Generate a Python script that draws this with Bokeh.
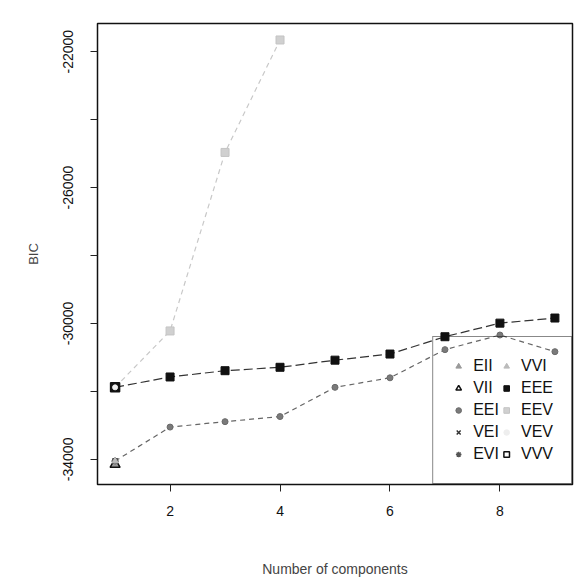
from bokeh.plotting import figure
from bokeh.models import FixedTicker, Legend, LegendItem, Range1d
from bokeh.embed import file_html
from bokeh.resources import INLINE

# ---- data ----
components = [1, 2, 3, 4, 5, 6, 7, 8, 9]
bic_EEE = [-31880, -31575, -31390, -31290, -31080, -30900, -30390, -29990, -29840]
bic_EEI = [-34050, -33050, -32890, -32740, -31880, -31600, -30770, -30340, -30830]
components_EEV = [1, 2, 3, 4]
bic_EEV = [-31880, -30220, -24965, -21655]
components_single = [1]
bic_EII = [-34150]
bic_VII = [-34150]
bic_VEI = [-34050]
bic_EVI = [-34050]
bic_VVI = [-34050]
bic_VEV = [-31880]
bic_VVV = [-31880]

y_ticks = [-34000, -32000, -30000, -28000, -26000, -24000, -22000]
y_labeled = [-34000, -30000, -26000, -22000]
x_ticks = [2, 4, 6, 8]

FONT = "Liberation Sans"

p = figure(frame_width=475, frame_height=461,
           min_border_left=97, min_border_right=2, min_border_top=23, min_border_bottom=95,
           x_range=Range1d(0.68, 9.32), y_range=Range1d(-34740, -21170),
           output_backend="svg", toolbar_location=None)
p.xgrid.visible = False
p.ygrid.visible = False
p.outline_line_color = "#111111"
p.outline_line_width = 1.5
p.background_fill_color = "white"
p.border_fill_color = "white"

# axes
p.xaxis.ticker = FixedTicker(ticks=x_ticks)
p.xaxis.minor_tick_line_color = None
p.xaxis.axis_line_color = None
p.xaxis.major_tick_in = 0
p.xaxis.major_tick_out = 7
p.xaxis.major_tick_line_color = "#222222"
p.xaxis.major_label_text_font = FONT
p.xaxis.major_label_text_font_size = "14px"
p.xaxis.major_label_text_color = "#111111"
p.xaxis.major_label_standoff = 14
p.xaxis.axis_label = "Number of components"
p.xaxis.axis_label_text_font = FONT
p.xaxis.axis_label_text_font_style = "normal"
p.xaxis.axis_label_text_font_size = "14px"
p.xaxis.axis_label_standoff = 42

p.yaxis.ticker = FixedTicker(ticks=y_ticks)
p.yaxis.major_label_overrides = {t: (str(t) if t in y_labeled else "") for t in y_ticks}
p.yaxis.minor_tick_line_color = None
p.yaxis.axis_line_color = None
p.yaxis.major_tick_in = 0
p.yaxis.major_tick_out = 7
p.yaxis.major_tick_line_color = "#222222"
p.yaxis.major_label_orientation = "vertical"
p.yaxis.major_label_text_font = FONT
p.yaxis.major_label_text_font_size = "14px"
p.yaxis.major_label_text_color = "#111111"
p.yaxis.major_label_standoff = 17
p.yaxis.axis_label = "BIC"
p.yaxis.axis_label_text_font = FONT
p.yaxis.axis_label_text_font_style = "normal"
p.yaxis.axis_label_text_font_size = "13px"
p.yaxis.axis_label_standoff = 20

# lines
p.line(components_EEV, bic_EEV, line_color="#c8c8c8", line_width=1.2, line_dash="5 4")
p.line(components, bic_EEI, line_color="#666666", line_width=1.2, line_dash="5 4")
p.line(components, bic_EEE, line_color="#333333", line_width=1.2, line_dash="9 4")

# markers
r_EEV = p.scatter(components_EEV, bic_EEV, marker="square", size=8, fill_color="#d0d0d0", line_color="#c4c4c4")
r_EEI = p.scatter(components, bic_EEI, marker="circle", size=6, fill_color="#7a7a7a", line_color="#6a6a6a")
r_EEE = p.scatter(components, bic_EEE, marker="square", size=8, fill_color="#111111", line_color="#111111")
r_VVV = p.scatter(components_single, bic_VVV, marker="square", size=9, fill_color=None, line_color="#111111", line_width=1.5)
r_VEV = p.scatter(components_single, bic_VEV, marker="circle", size=5, fill_color="#eeeeee", line_color="#eeeeee")
r_EII = p.scatter(components_single, bic_EII, marker="triangle", size=8, fill_color="#9a9a9a", line_color="#9a9a9a")
r_VII = p.scatter(components_single, bic_VII, marker="triangle", size=10, fill_color=None, line_color="#111111", line_width=1.5)
r_VEI = p.scatter(components_single, bic_VEI, marker="x", size=7, line_color="#333333", line_width=1.5)
r_EVI = p.scatter(components_single, bic_EVI, marker="asterisk", size=7, line_color="#555555", line_width=1.3)
r_VVI = p.scatter(components_single, bic_VVI, marker="triangle", size=6, fill_color="#bbbbbb", line_color="#bbbbbb")

items = [
    LegendItem(label="EII", renderers=[r_EII]),
    LegendItem(label="VII", renderers=[r_VII]),
    LegendItem(label="EEI", renderers=[r_EEI]),
    LegendItem(label="VEI", renderers=[r_VEI]),
    LegendItem(label="EVI", renderers=[r_EVI]),
    LegendItem(label="VVI", renderers=[r_VVI]),
    LegendItem(label="EEE", renderers=[r_EEE]),
    LegendItem(label="EEV", renderers=[r_EEV]),
    LegendItem(label="VEV", renderers=[r_VEV]),
    LegendItem(label="VVV", renderers=[r_VVV]),
]
legend = Legend(items=items, location="bottom_right", nrows=5,
                margin=0, padding=18, spacing=0,
                label_text_font=FONT, label_text_font_size="16px", label_text_color="#111111",
                label_height=22, glyph_height=14, glyph_width=14, label_standoff=8,
                border_line_color="#111111", border_line_width=1.5,
                background_fill_alpha=0.0)
p.add_layout(legend, "center")

open("out.html", "w").write(file_html(p, INLINE))
